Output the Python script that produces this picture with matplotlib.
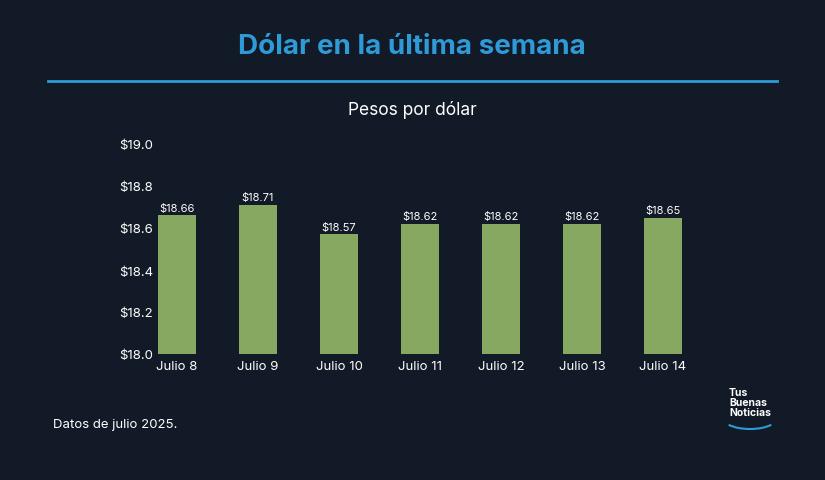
import matplotlib.pyplot as plt
import numpy as np
from matplotlib.patches import Arc

plt.rcParams['font.family'] = 'Inter'

days = ['Julio 8', 'Julio 9', 'Julio 10', 'Julio 11', 'Julio 12', 'Julio 13', 'Julio 14']
values = [18.66, 18.71, 18.57, 18.62, 18.62, 18.62, 18.65]
yticks = [18.0, 18.2, 18.4, 18.6, 18.8, 19.0]

bg = '#111a26'
W, H = 825, 481
fig = plt.figure(figsize=(W / 100, H / 100), dpi=100, facecolor=bg)

fig.text(412 / W, 1 - 47 / H, 'Dólar en la última semana', color='#2f9ad8',
         fontsize=20, fontweight='bold', ha='center', va='center')
fig.add_artist(plt.Line2D([48 / W, 777 / W], [1 - 82 / H] * 2, color='#2f9ad8', lw=2))
fig.text(412 / W, 1 - 110 / H, 'Pesos por dólar', color='white', fontsize=12.5,
         ha='center', va='center')

ax = fig.add_axes([136.5 / W, 1 - 355 / H, 567 / W, 210 / H])
ax.set_facecolor(bg)
x = np.arange(len(days))
ax.bar(x, [v - 18.0 for v in values], bottom=18.0, width=0.47, color='#86a861')
for xi, v in zip(x, values):
    ax.text(xi, v + 0.012, f'${v:.2f}', color='white', fontsize=8, ha='center', va='bottom')
ax.set_xlim(-0.5, len(days) - 0.5)
ax.set_ylim(18.0, 19.0)
ax.set_xticks(x, days)
ax.set_yticks(yticks, [f'${t:.1f}' for t in yticks])
ax.tick_params(colors='white', labelsize=9.5, length=0)
ax.tick_params(axis='y', pad=-12)
ax.tick_params(axis='x', pad=4)
for s in ax.spines.values():
    s.set_visible(False)

fig.text(53 / W, 1 - 425 / H, 'Datos de julio 2025.', color='white', fontsize=9.5,
         ha='left', va='center')
fig.text(729 / W, 1 - 403 / H, 'Tus\nBuenas\nNoticias', color='white', fontsize=7.5,
         fontweight='bold', ha='left', va='center', linespacing=0.95)
la = fig.add_axes([720 / W, 1 - 440 / H, 60 / W, 20 / H])
la.axis('off')
la.set_xlim(0, 60)
la.set_ylim(0, 20)
la.add_patch(Arc((30, 22), 56, 24, theta1=200, theta2=340, color='#2f9ad8', lw=1.5))

fig.savefig('out.png', dpi=100, facecolor=bg)
